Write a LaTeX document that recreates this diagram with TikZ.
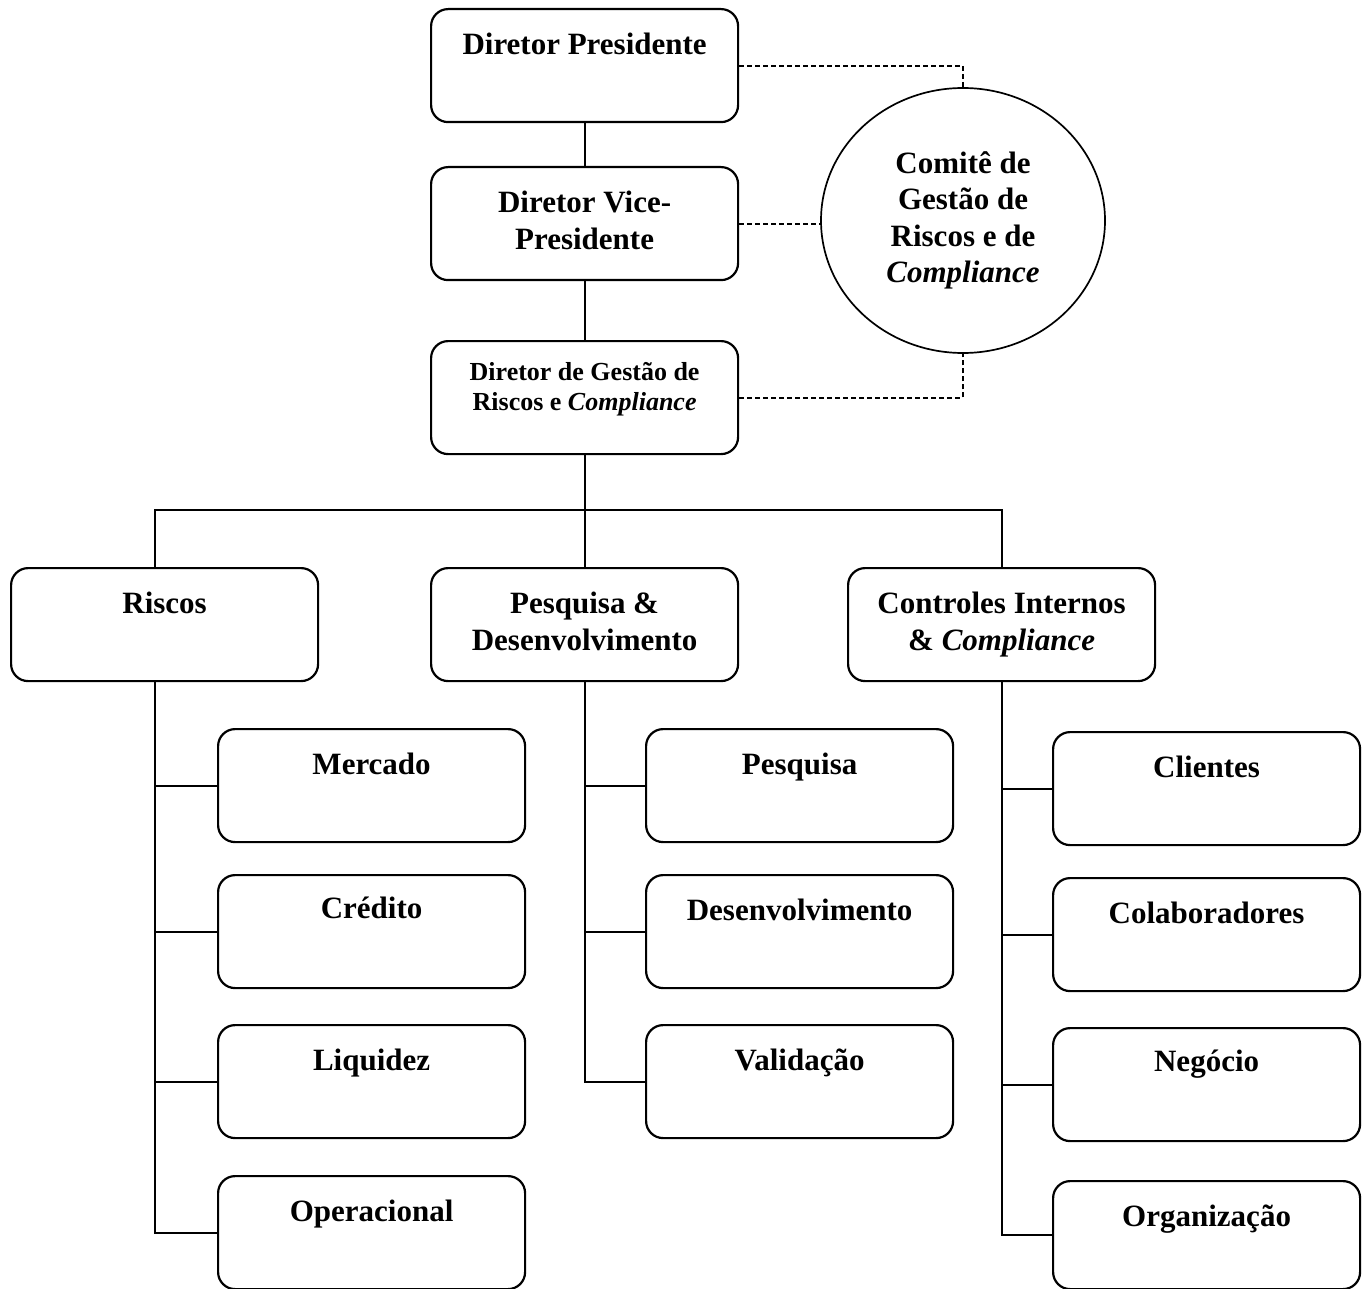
\documentclass[tikz,border=0pt]{standalone}
\usepackage{fontspec}
\setmainfont{Liberation Serif}
\usetikzlibrary{shapes.geometric}
\begin{document}
\begin{tikzpicture}[x=1pt,y=-1pt,
  box/.style={draw, line width=2.2pt, rounded corners=17pt, minimum width=307pt, minimum height=113pt, inner sep=0pt, anchor=north west},
  lbl/.style={anchor=north, inner sep=0pt, align=center, font=\fontsize{31}{36.5}\selectfont\bfseries},
  smalllbl/.style={anchor=north, inner sep=0pt, align=center, font=\fontsize{26}{30}\selectfont\bfseries},
  conn/.style={line width=2.2pt},
  dashconn/.style={line width=2pt, dash pattern=on 5pt off 3pt}]
\useasboundingbox (0,0) rectangle (1365,1289);
\fill[white] (0,0) rectangle (1365,1289);

% top column
\node[box] (pres) at (430,8) {};
\node[lbl] (presT) at ([yshift=-25pt]pres.north) {Diretor Presidente};
\node[box] (vp) at (430,166) {};
\node[lbl] (vpT) at ([yshift=-25pt]vp.north) {Diretor Vice-\\Presidente};
\node[box] (dgrc) at (430,340) {};
\node[smalllbl] (dgrcT) at ([yshift=-22pt]dgrc.north) {Diretor de Gestão de\\Riscos e \textit{Compliance}};

% committee
\node[draw, ellipse, line width=1.7pt, minimum width=284pt, minimum height=265pt, inner sep=0pt, align=center, font=\fontsize{31}{36.5}\selectfont\bfseries] (com) at (963,220.5) {Comitê de\\Gestão de\\Riscos e de\\\textit{Compliance}};

% second level
\node[box] (ris) at (10,567) {};
\node[lbl] (risT) at ([yshift=-25pt]ris.north) {Riscos};
\node[box] (pd) at (430,567) {};
\node[lbl] (pdT) at ([yshift=-25pt]pd.north) {Pesquisa \&\\Desenvolvimento};
\node[box] (ci) at (847,567) {};
\node[lbl] (ciT) at ([yshift=-25pt]ci.north) {Controles Internos\\\& \textit{Compliance}};

% Riscos children
\node[box] (mer) at (217,728) {};
\node[lbl] (merT) at ([yshift=-25pt]mer.north) {Mercado};
\node[box] (cre) at (217,874) {};
\node[lbl] (creT) at ([yshift=-23pt]cre.north) {Crédito};
\node[box] (liq) at (217,1024) {};
\node[lbl] (liqT) at ([yshift=-25pt]liq.north) {Liquidez};
\node[box] (ope) at (217,1175) {};
\node[lbl] (opeT) at ([yshift=-25pt]ope.north) {Operacional};

% P&D children
\node[box] (pes) at (645,728) {};
\node[lbl] (pesT) at ([yshift=-25pt]pes.north) {Pesquisa};
\node[box] (des) at (645,874) {};
\node[lbl] (desT) at ([yshift=-25pt]des.north) {Desenvolvimento};
\node[box] (val) at (645,1024) {};
\node[lbl] (valT) at ([yshift=-25pt]val.north) {Validação};

% CI children
\node[box] (cli) at (1052,731) {};
\node[lbl] (cliT) at ([yshift=-25pt]cli.north) {Clientes};
\node[box] (col) at (1052,877) {};
\node[lbl] (colT) at ([yshift=-25pt]col.north) {Colaboradores};
\node[box] (neg) at (1052,1027) {};
\node[lbl] (negT) at ([yshift=-23pt]neg.north) {Negócio};
\node[box, minimum height=108pt] (org) at (1052,1180) {};
\node[lbl] (orgT) at ([yshift=-25pt]org.north) {Organização};

% solid connectors
\coordinate (rx) at (155,510);
\coordinate (cx) at (ci.north |- rx);
\draw[conn] (pres.south) -- (vp.north);
\draw[conn] (vp.south) -- (dgrc.north);
\draw[conn] (dgrc.south) -- (dgrc.south |- rx) -- (pd.north);
\draw[conn] (rx |- ris.north) -- (rx) -- (cx) -- (ci.north);

\draw[conn] (rx |- ris.south) -- (rx |- ope.west) -- (ope.west);
\draw[conn] (rx |- mer.west) -- (mer.west);
\draw[conn] (rx |- cre.west) -- (cre.west);
\draw[conn] (rx |- liq.west) -- (liq.west);

\draw[conn] (pd.south) -- (pd.south |- val.west) -- (val.west);
\draw[conn] (pd.south |- pes.west) -- (pes.west);
\draw[conn] (pd.south |- des.west) -- (des.west);

\draw[conn] (ci.south) -- (ci.south |- org.west) -- (org.west);
\draw[conn] (ci.south |- cli.west) -- (cli.west);
\draw[conn] (ci.south |- col.west) -- (col.west);
\draw[conn] (ci.south |- neg.west) -- (neg.west);

% dashed connectors to committee
\draw[dashconn] (pres.east) -- (pres.east -| com.north) -- (com.north);
\draw[dashconn] (vp.east) -- (vp.east -| com.west);
\draw[dashconn] (dgrc.east) -- (dgrc.east -| com.south) -- (com.south);
\end{tikzpicture}
\end{document}
